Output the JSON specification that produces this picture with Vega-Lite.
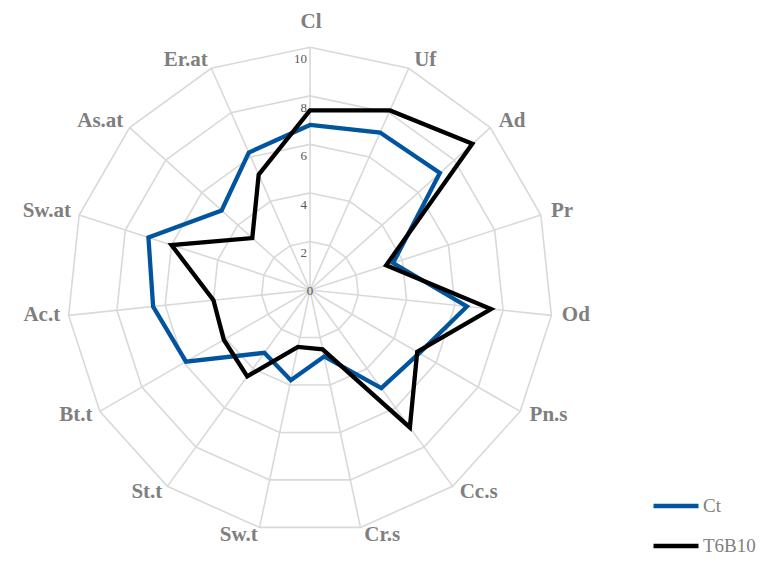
{
  "$schema": "https://vega.github.io/schema/vega-lite/v6.json",
  "width": 760,
  "height": 567,
  "padding": 0,
  "autosize": {"type": "none"},
  "background": "white",
  "config": {"view": {"stroke": null}},
  "datasets": {
    "scores": [
      {"series": "Ct", "attr": "Cl", "value": 6.8},
      {"series": "Ct", "attr": "Uf", "value": 7.1},
      {"series": "Ct", "attr": "Ad", "value": 7.2},
      {"series": "Ct", "attr": "Pr", "value": 3.6},
      {"series": "Ct", "attr": "Od", "value": 6.5},
      {"series": "Ct", "attr": "Pn.s", "value": 5.2},
      {"series": "Ct", "attr": "Cc.s", "value": 5.0},
      {"series": "Ct", "attr": "Cr.s", "value": 2.8},
      {"series": "Ct", "attr": "Sw.t", "value": 3.8},
      {"series": "Ct", "attr": "St.t", "value": 3.2},
      {"series": "Ct", "attr": "Bt.t", "value": 5.9},
      {"series": "Ct", "attr": "Ac.t", "value": 6.5},
      {"series": "Ct", "attr": "Sw.at", "value": 7.0},
      {"series": "Ct", "attr": "As.at", "value": 4.9},
      {"series": "Ct", "attr": "Er.at", "value": 6.2},
      {"series": "T6B10", "attr": "Cl", "value": 7.4},
      {"series": "T6B10", "attr": "Uf", "value": 8.1},
      {"series": "T6B10", "attr": "Ad", "value": 9.0},
      {"series": "T6B10", "attr": "Pr", "value": 3.3},
      {"series": "T6B10", "attr": "Od", "value": 7.5},
      {"series": "T6B10", "attr": "Pn.s", "value": 5.1},
      {"series": "T6B10", "attr": "Cc.s", "value": 7.0},
      {"series": "T6B10", "attr": "Cr.s", "value": 2.5},
      {"series": "T6B10", "attr": "Sw.t", "value": 2.4},
      {"series": "T6B10", "attr": "St.t", "value": 4.4},
      {"series": "T6B10", "attr": "Bt.t", "value": 4.1},
      {"series": "T6B10", "attr": "Ac.t", "value": 4.0},
      {"series": "T6B10", "attr": "Sw.at", "value": 6.0},
      {"series": "T6B10", "attr": "As.at", "value": 3.2},
      {"series": "T6B10", "attr": "Er.at", "value": 5.2}
    ],
    "levels": [
      {"level": 0}, {"level": 2}, {"level": 4}, {"level": 6}, {"level": 8}, {"level": 10}
    ]
  },
  "layer": [
    {
      "data": {"name": "scores"},
      "transform": [
        {"filter": "datum.series == 'Ct'"},
        {"window": [{"op": "row_number", "as": "idx"}]},
        {"calculate": "[2,4,6,8,10]", "as": "ring"},
        {"flatten": ["ring"]},
        {"calculate": "datum.ring*sin((datum.idx-1)*2*PI/15)", "as": "gx"},
        {"calculate": "datum.ring*cos((datum.idx-1)*2*PI/15)", "as": "gy"}
      ],
      "mark": {"type": "line", "interpolate": "linear-closed", "stroke": "#d9d9d9", "strokeWidth": 1.6},
      "encoding": {
        "x": {"field": "gx", "type": "quantitative", "scale": {"domain": [-12.773, 18.541], "nice": false, "zero": false}, "axis": null},
        "y": {"field": "gy", "type": "quantitative", "scale": {"domain": [-11.413, 11.949], "nice": false, "zero": false}, "axis": null},
        "detail": {"field": "ring", "type": "nominal"},
        "order": {"field": "idx", "type": "quantitative"}
      }
    },
    {
      "data": {"name": "scores"},
      "transform": [
        {"filter": "datum.series == 'Ct'"},
        {"window": [{"op": "row_number", "as": "idx"}]},
        {"calculate": "10*sin((datum.idx-1)*2*PI/15)", "as": "sx"},
        {"calculate": "10*cos((datum.idx-1)*2*PI/15)", "as": "sy"},
        {"calculate": "0", "as": "z"}
      ],
      "mark": {"type": "rule", "stroke": "#d9d9d9", "strokeWidth": 1.6},
      "encoding": {
        "x": {"field": "z", "type": "quantitative", "scale": {"domain": [-12.773, 18.541], "nice": false, "zero": false}, "axis": null},
        "y": {"field": "z", "type": "quantitative", "scale": {"domain": [-11.413, 11.949], "nice": false, "zero": false}, "axis": null},
        "x2": {"field": "sx"},
        "y2": {"field": "sy"}
      }
    },
    {
      "data": {"name": "levels"},
      "transform": [
        {"filter": "datum.level > 0"},
        {"calculate": "0", "as": "z"}
      ],
      "mark": {"type": "text", "align": "right", "baseline": "middle", "dx": -3, "dy": 12, "font": "Liberation Serif", "fontSize": 13, "fill": "#595959"},
      "encoding": {
        "x": {"field": "z", "type": "quantitative", "axis": null},
        "y": {"field": "level", "type": "quantitative", "axis": null},
        "text": {"field": "level", "type": "quantitative"}
      }
    },
    {
      "data": {"name": "levels"},
      "transform": [
        {"filter": "datum.level == 0"},
        {"calculate": "0", "as": "z"}
      ],
      "mark": {"type": "text", "align": "center", "baseline": "middle", "dy": 1, "font": "Liberation Serif", "fontSize": 13, "fill": "#595959"},
      "encoding": {
        "x": {"field": "z", "type": "quantitative", "axis": null},
        "y": {"field": "level", "type": "quantitative", "axis": null},
        "text": {"field": "level", "type": "quantitative"}
      }
    },
    {
      "data": {"name": "scores"},
      "transform": [
        {"window": [{"op": "row_number", "as": "idx"}], "groupby": ["series"]},
        {"calculate": "datum.value*sin((datum.idx-1)*2*PI/15)", "as": "px"},
        {"calculate": "datum.value*cos((datum.idx-1)*2*PI/15)", "as": "py"}
      ],
      "mark": {"type": "line", "interpolate": "linear-closed", "strokeWidth": 4.3, "strokeJoin": "miter"},
      "encoding": {
        "x": {"field": "px", "type": "quantitative", "axis": null},
        "y": {"field": "py", "type": "quantitative", "axis": null},
        "order": {"field": "idx", "type": "quantitative"},
        "color": {
          "field": "series",
          "type": "nominal",
          "scale": {"domain": ["Ct", "T6B10"], "range": ["#00559e", "#000000"]},
          "legend": {
            "title": null,
            "orient": "none",
            "legendX": 651,
            "legendY": 481,
            "padding": 0,
            "symbolType": "stroke",
            "symbolStrokeWidth": 4.3,
            "symbolSize": 2025,
            "labelFont": "Liberation Serif",
            "labelFontSize": 19,
            "labelColor": "#7f7f7f",
            "labelOffset": 2,
            "rowPadding": 5
          }
        }
      }
    },
    {
      "data": {"name": "scores"},
      "transform": [
        {"filter": "datum.series == 'Ct'"},
        {"window": [{"op": "row_number", "as": "idx"}]},
        {"filter": "datum.idx >= 2 && datum.idx <= 8"},
        {"calculate": "10.35*sin((datum.idx-1)*2*PI/15)", "as": "lx"},
        {"calculate": "10.35*cos((datum.idx-1)*2*PI/15)", "as": "ly"}
      ],
      "mark": {"type": "text", "align": "left", "baseline": "middle", "dx": 2, "dy": -1, "font": "Liberation Serif", "fontWeight": "bold", "fontSize": 21, "fill": "#7f7f7f"},
      "encoding": {
        "x": {"field": "lx", "type": "quantitative", "axis": null},
        "y": {"field": "ly", "type": "quantitative", "axis": null},
        "text": {"field": "attr", "type": "nominal"}
      }
    },
    {
      "data": {"name": "scores"},
      "transform": [
        {"filter": "datum.series == 'Ct'"},
        {"window": [{"op": "row_number", "as": "idx"}]},
        {"filter": "datum.idx >= 9"},
        {"calculate": "10.35*sin((datum.idx-1)*2*PI/15)", "as": "lx"},
        {"calculate": "10.35*cos((datum.idx-1)*2*PI/15)", "as": "ly"}
      ],
      "mark": {"type": "text", "align": "right", "baseline": "middle", "dx": 0, "dy": -1, "font": "Liberation Serif", "fontWeight": "bold", "fontSize": 21, "fill": "#7f7f7f"},
      "encoding": {
        "x": {"field": "lx", "type": "quantitative", "axis": null},
        "y": {"field": "ly", "type": "quantitative", "axis": null},
        "text": {"field": "attr", "type": "nominal"}
      }
    },
    {
      "data": {"name": "scores"},
      "transform": [
        {"filter": "datum.series == 'Ct'"},
        {"window": [{"op": "row_number", "as": "idx"}]},
        {"filter": "datum.idx == 1"},
        {"calculate": "0", "as": "lx"},
        {"calculate": "10.8", "as": "ly"}
      ],
      "mark": {"type": "text", "align": "center", "baseline": "alphabetic", "dx": 1, "font": "Liberation Serif", "fontWeight": "bold", "fontSize": 21, "fill": "#7f7f7f"},
      "encoding": {
        "x": {"field": "lx", "type": "quantitative", "axis": null},
        "y": {"field": "ly", "type": "quantitative", "axis": null},
        "text": {"field": "attr", "type": "nominal"}
      }
    }
  ]
}
